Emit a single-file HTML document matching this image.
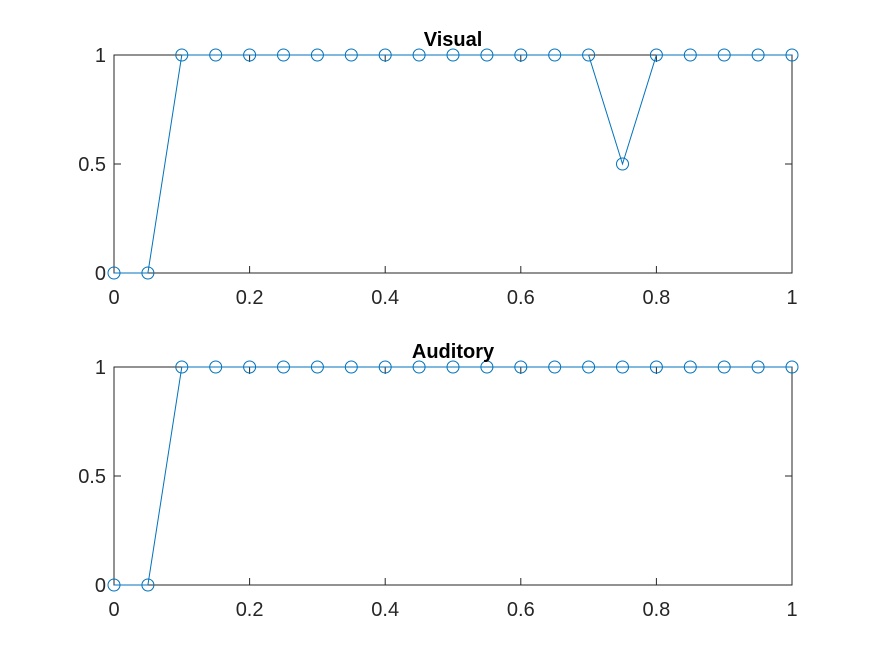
<!DOCTYPE html>
<html><head><meta charset="utf-8"><style>
html,body{margin:0;padding:0;background:#fff;}
svg{display:block;font-family:"Liberation Sans",Arial,sans-serif;}
</style></head><body>
<svg id="fig" width="875" height="656"></svg>
<script>
const xValues=[0,0.05,0.1,0.15,0.2,0.25,0.3,0.35,0.4,0.45,0.5,0.55,0.6,0.65,0.7,0.75,0.8,0.85,0.9,0.95,1];
const visualValues=[0,0,1,1,1,1,1,1,1,1,1,1,1,1,1,0.5,1,1,1,1,1];
const auditoryValues=[0,0,1,1,1,1,1,1,1,1,1,1,1,1,1,1,1,1,1,1,1];
const xTicks=[0,0.2,0.4,0.6,0.8,1];
const xTickLabels=["0","0.2","0.4","0.6","0.8","1"];
const yTicks=[0,0.5,1];
const yTickLabels=["0","0.5","1"];
const NS="http://www.w3.org/2000/svg";
const svg=document.getElementById('fig');
function mk(t,a,p){const e=document.createElementNS(NS,t);for(const k in a)e.setAttribute(k,a[k]);(p||svg).appendChild(e);return e;}
function panel(title,vals,top,name){
  const L=114,R=792,T=top,B=top+218;
  const sx=v=>L+v*(R-L), sy=v=>B-v*(B-T);
  const g=mk('g',{});
  
  
  mk('rect',{x:L,y:T,width:R-L,height:B-T,fill:'#fff',stroke:'#262626','stroke-width':1},g);
  xTicks.forEach((v,i)=>{
    mk('line',{x1:sx(v),x2:sx(v),y1:B,y2:B-7,stroke:'#262626'},g);
    mk('line',{x1:sx(v),x2:sx(v),y1:T,y2:T+7,stroke:'#262626'},g);
    const t=mk('text',{x:sx(v),y:B+31,'text-anchor':'middle','font-size':20,fill:'#262626'},g);
    t.textContent=xTickLabels[i];
    
    
  });
  yTicks.forEach((v,i)=>{
    mk('line',{x1:L,x2:L+7,y1:sy(v),y2:sy(v),stroke:'#262626'},g);
    mk('line',{x1:R,x2:R-7,y1:sy(v),y2:sy(v),stroke:'#262626'},g);
    const t=mk('text',{x:L-8,y:sy(v)+7,'text-anchor':'end','font-size':20,fill:'#262626'},g);
    t.textContent=yTickLabels[i];
    
    
  });
  const pts=xValues.map((x,i)=>sx(x)+','+sy(vals[i])).join(' ');
  const pl=mk('polyline',{points:pts,fill:'none',stroke:'#0072BD','stroke-width':1},g);
  
  
  xValues.forEach((x,i)=>{
    const c=mk('circle',{cx:sx(x),cy:sy(vals[i]),r:6,fill:'none',stroke:'#0072BD','stroke-width':1},g);
    
    
  });
  const tt=mk('text',{x:(L+R)/2,y:T-9,'text-anchor':'middle','font-size':20,'font-weight':'bold',fill:'#000'},g);
  tt.textContent=title;
  
  
}
panel('Visual',visualValues,55,'visual');
panel('Auditory',auditoryValues,367,'auditory');
</script>
</body></html>
